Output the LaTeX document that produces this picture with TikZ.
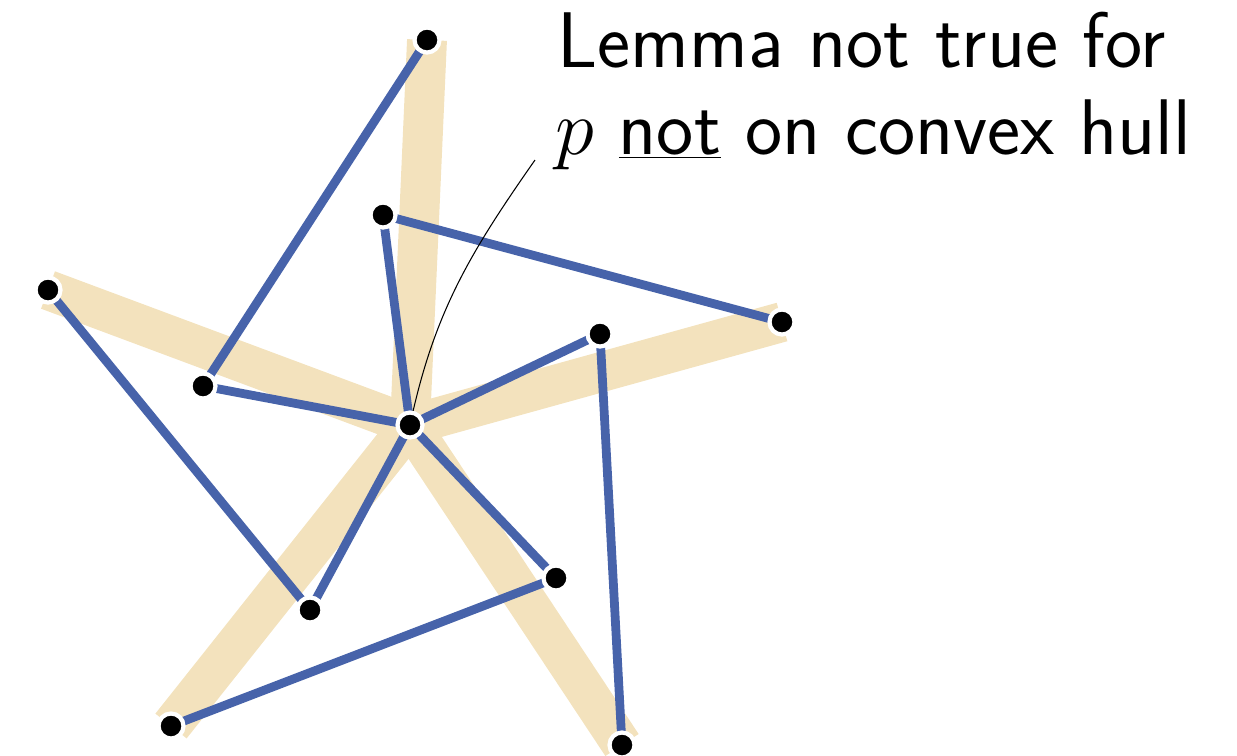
\RequirePackage{fix-cm}
\documentclass[tikz,border=0pt]{standalone}

\definecolor{hullbeige}{RGB}{243,226,189}
\definecolor{edgeblue}{RGB}{71,99,170}

\tikzset{
  hull/.style={line width=22.7pt, color=hullbeige},
  edge/.style={line width=5pt, color=edgeblue},
  pt/.style={circle, fill=black, draw=white, line width=2.4pt, inner sep=0pt, minimum size=0.5cm},
  lbl/.style={font=\sffamily\fontsize{44.9}{52}\selectfont, inner sep=0pt}
}

\begin{document}
\begin{tikzpicture}[x=0.02cm, y=-0.02cm]
        \useasboundingbox (0,0) rectangle (1237,755);

        % Points
        \coordinate (p) at (410,425);
        \coordinate (tip1) at (427,40);
        \coordinate (tip2) at (782,322);
        \coordinate (tip3) at (622,745);
        \coordinate (tip4) at (171,726);
        \coordinate (tip5) at (48,290);
        \coordinate (in1) at (383,215);
        \coordinate (in2) at (600,334);
        \coordinate (in3) at (556,578);
        \coordinate (in4) at (310,610);
        \coordinate (in5) at (203,386);

        % Star behind
        \foreach \i in {1,...,5} {
            \draw[hull] (p) -- (tip\i);
        }

        % Blue edges
        \foreach \i/\j in {1/5,2/1,3/2,4/3,5/4} {
            \draw[edge] (tip\i) -- (in\j) -- (p);
        }

        % Label
        \node[lbl, anchor=base west] (line1) at (557,67) {Lemma not true for};
        \node[lbl, anchor=base west] (line2) at (555,154) {$p$ \underline{not} on convex hull};
        \coordinate (lead) at (535,160);
        \draw[line width=0.6pt] (lead) to[out=235, in=78] (p);

        % Nodes
        \foreach \q in {p,tip1,tip2,tip3,tip4,tip5,in1,in2,in3,in4,in5} {
            \node[pt] (dot-\q) at (\q) {};
        }
    \end{tikzpicture}
\end{document}
